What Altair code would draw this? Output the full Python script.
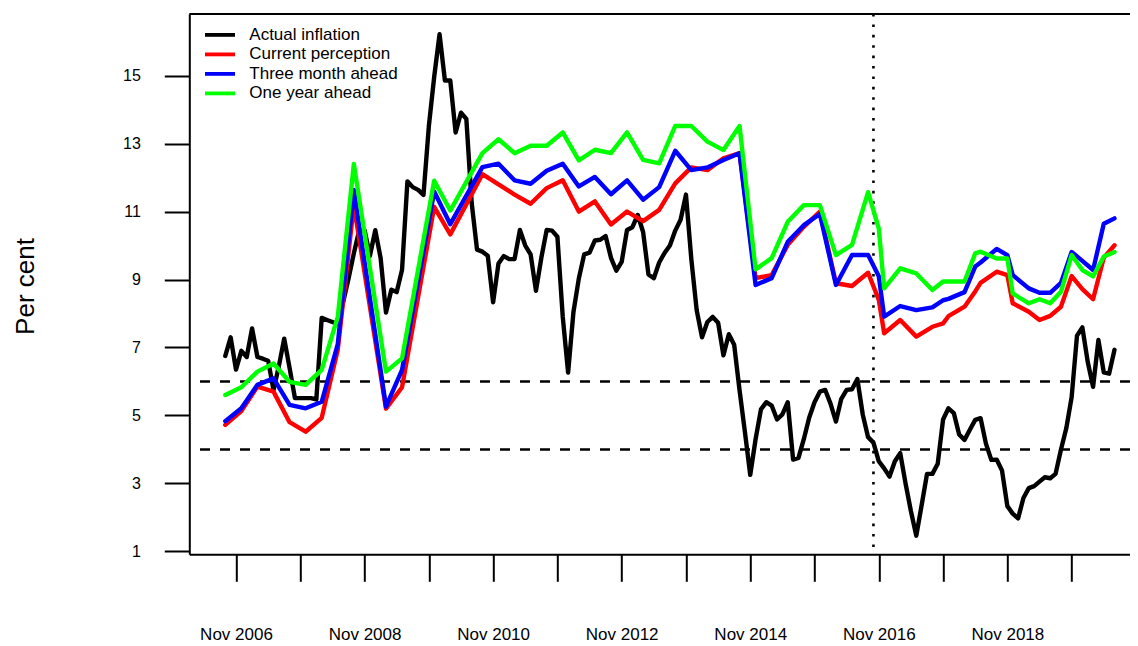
import altair as alt
import pandas as pd

# ------------------------------------------------------------------ data
ACTUAL_START = "2006-09"
ACTUAL = [
    6.75, 7.30, 6.35, 6.90,                                                    # 2006 Sep-Dec
    6.72, 7.56, 6.72, 6.67, 6.61, 5.75, 6.45, 7.26, 6.40, 5.51, 5.51, 5.51,    # 2007
    5.51, 5.47, 7.87, 7.81, 7.75, 7.69, 8.33, 9.02, 9.77, 10.45, 10.45, 9.70,  # 2008
    10.45, 9.63, 8.03, 8.70, 8.63, 9.29, 11.89, 11.72, 11.64, 11.49, 13.51, 14.97,  # 2009
    16.22, 14.86, 14.86, 13.33, 13.91, 13.73, 11.25, 9.88, 9.82, 9.70, 8.33, 9.47,  # 2010
    9.69, 9.60, 9.60, 10.46, 10.00, 9.74, 8.67, 9.64, 10.46, 10.44, 10.26, 7.90,    # 2011
    6.26, 8.05, 9.03, 9.74, 9.79, 10.15, 10.17, 10.28, 9.64, 9.26, 9.52, 10.46,     # 2012
    10.54, 10.90, 10.40, 9.15, 9.04, 9.50, 9.78, 10.00, 10.44, 10.76, 11.50, 9.60,  # 2013
    8.10, 7.30, 7.75, 7.90, 7.73, 6.77, 7.39, 7.08, 5.75, 4.52, 3.25, 4.30,         # 2014
    5.18, 5.39, 5.29, 4.88, 5.03, 5.39, 3.70, 3.75, 4.30, 4.93, 5.39, 5.70,         # 2015
    5.75, 5.34, 4.82, 5.49, 5.75, 5.77, 6.07, 5.03, 4.36, 4.20, 3.65, 3.44,         # 2016
    3.20, 3.65, 3.89, 2.99, 2.18, 1.46, 2.36, 3.28, 3.28, 3.58, 4.88, 5.21,         # 2017
    5.07, 4.44, 4.28, 4.58, 4.87, 4.92, 4.17, 3.69, 3.70, 3.38, 2.33, 2.11,         # 2018
    1.97, 2.57, 2.86, 2.92, 3.05, 3.18, 3.15, 3.28, 3.99, 4.62, 5.54, 7.35,         # 2019
    7.59, 6.58, 5.84, 7.22, 6.27, 6.23, 6.93,                                       # 2020 Jan-Jul
]

EXP_DATES = [
    "2006-09", "2006-12", "2007-03", "2007-06", "2007-09", "2007-12", "2008-03",
    "2008-06", "2008-09", "2009-03", "2009-06", "2009-12", "2010-03", "2010-09",
    "2010-12", "2011-03", "2011-06", "2011-09", "2011-12", "2012-03", "2012-06",
    "2012-09", "2012-12", "2013-03", "2013-06", "2013-09", "2013-12", "2014-03",
    "2014-06", "2014-09", "2014-12", "2015-03", "2015-06", "2015-09", "2015-12",
    "2016-03", "2016-06", "2016-09", "2016-11", "2016-12", "2017-03", "2017-06",
    "2017-09", "2017-11", "2017-12", "2018-03", "2018-05", "2018-06", "2018-09",
    "2018-11", "2018-12", "2019-03", "2019-05", "2019-07", "2019-09", "2019-11",
    "2020-01", "2020-03", "2020-05", "2020-07",
]
CURRENT = [
    4.72, 5.13, 5.85, 5.70, 4.80, 4.52, 4.93,
    6.93, 11.20, 5.20, 5.83, 11.14, 10.33, 12.10,
    11.80, 11.50, 11.23, 11.69, 11.92, 11.00, 11.30,
    10.62, 11.00, 10.72, 11.05, 11.83, 12.30, 12.22,
    12.57, 12.72, 9.04, 9.13, 10.02, 10.55, 11.00,
    8.89, 8.81, 9.20, 8.40, 7.42, 7.81, 7.32,
    7.61, 7.71, 7.92, 8.20, 8.65, 8.90, 9.23,
    9.13, 8.30, 8.05, 7.81, 7.93, 8.20, 9.10,
    8.72, 8.42, 9.64, 10.01,
]
THREE_MONTH = [
    4.83, 5.21, 5.90, 6.09, 5.31, 5.21, 5.40,
    7.10, 11.64, 5.26, 6.34, 11.59, 10.63, 12.31,
    12.41, 11.92, 11.82, 12.20, 12.41, 11.74, 12.02,
    11.51, 11.92, 11.35, 11.72, 12.79, 12.22, 12.30,
    12.52, 12.72, 8.84, 9.04, 10.11, 10.60, 10.93,
    8.84, 9.72, 9.72, 9.10, 7.91, 8.22, 8.10,
    8.18, 8.39, 8.43, 8.63, 9.38, 9.50, 9.90,
    9.72, 9.13, 8.74, 8.61, 8.61, 8.90, 9.81,
    9.55, 9.28, 10.64, 10.80,
]
ONE_YEAR = [
    5.60, 5.83, 6.29, 6.53, 5.99, 5.90, 6.34,
    7.90, 12.40, 6.29, 6.68, 11.91, 11.03, 12.72,
    13.13, 12.72, 12.94, 12.94, 13.33, 12.51, 12.82,
    12.72, 13.33, 12.52, 12.42, 13.52, 13.52, 13.06,
    12.81, 13.52, 9.30, 9.63, 10.70, 11.19, 11.19,
    9.72, 10.02, 11.57, 10.50, 8.74, 9.33, 9.18,
    8.69, 8.94, 8.94, 8.94, 9.77, 9.82, 9.62,
    9.62, 8.59, 8.30, 8.42, 8.30, 8.64, 9.72,
    9.28, 9.09, 9.68, 9.81,
]

SERIES_NAMES = ["Actual inflation", "Current perception", "Three month ahead", "One year ahead"]
SERIES_COLORS = ["#000000", "#FF0000", "#0000FF", "#00FF00"]
TARGET_LINES = [4, 6]
EVENT_DATE = "2016-10"
Y_TICKS = [1, 3, 5, 7, 9, 11, 13, 15]
X_TICK_DATES = ["2006-11", "2007-11", "2008-11", "2009-11", "2010-11", "2011-11", "2012-11",
                "2013-11", "2014-11", "2015-11", "2016-11", "2017-11", "2018-11", "2019-11"]
X_TICK_LABELS = ["Nov 2006", "", "Nov 2008", "", "Nov 2010", "", "Nov 2012",
                 "", "Nov 2014", "", "Nov 2016", "", "Nov 2018", ""]
Y_TITLE = "Per cent"

# ------------------------------------------------------------------ helpers
def dec(s):
    y, m = s.split("-")
    return int(y) + (int(m) - 1) / 12.0

t0 = dec(ACTUAL_START)
actual_df = pd.DataFrame({"t": [t0 + i / 12.0 for i in range(len(ACTUAL))], "v": ACTUAL})
exp_t = [dec(s) for s in EXP_DATES]
exp_dfs = [pd.DataFrame({"t": exp_t, "v": vals}) for vals in (CURRENT, THREE_MONTH, ONE_YEAR)]
target_df = pd.DataFrame({"v": TARGET_LINES})
event_df = pd.DataFrame({"t": [dec(EVENT_DATE)]})
one_row = pd.DataFrame({"k": [0]})

X_TICKS = [dec(s) for s in X_TICK_DATES]
label_expr = " : ".join(
    f"abs(datum.value - {t:.6f}) < 0.01 ? '{lab}'" for t, lab in zip(X_TICKS, X_TICK_LABELS)
) + " : ''"

FONT = "Liberation Sans"
PAD_L, PAD_T = 181.3, 6
W, H = 1122 - PAD_L, 540.3
PX_PER_YEAR = 64.28
X0 = 2006.1068

xscale = alt.Scale(domain=[X0, X0 + W / PX_PER_YEAR], nice=False, zero=False)
yscale = alt.Scale(domain=[0.912, 16.816], nice=False, zero=False)

xaxis = alt.Axis(
    values=X_TICKS, labelExpr=label_expr, title="", grid=False,
    tickSize=27, tickWidth=2, tickColor="black",
    domainColor="black", domainWidth=2,
    labelPadding=45, labelFontSize=17, labelFont=FONT, labelColor="black",
    labelOverlap=False, labelFlush=False,
)
yaxis = alt.Axis(
    values=Y_TICKS, grid=False, format="d",
    tickSize=25, tickWidth=2, tickColor="black",
    domainColor="black", domainWidth=2,
    labelPadding=24, labelFontSize=16, labelFont=FONT, labelColor="black",
    labelOverlap=False, labelFlush=False,
    title=Y_TITLE, titleFont=FONT, titleFontSize=26, titleFontWeight="normal",
    titleColor="black", titleAngle=270, titleX=-156, titleY=272,
    titleAlign="center", titleBaseline="alphabetic",
)

def X(field):
    return alt.X(field, type="quantitative", scale=xscale, axis=xaxis)

def Y(field):
    return alt.Y(field, type="quantitative", scale=yscale, axis=yaxis)

layers = []

# top border of the box
layers.append(
    alt.Chart(one_row).mark_rule(color="black", strokeWidth=2).encode(
        x=alt.value(0), x2=alt.value(W), y=alt.value(0))
)
# target band lines
layers.append(
    alt.Chart(target_df).mark_rule(color="black", strokeWidth=2.5, strokeDash=[10, 10]).encode(
        y=Y("v"))
)
# event line
layers.append(
    alt.Chart(event_df).mark_rule(color="black", strokeWidth=2.6, strokeDash=[2.6, 7.8]).encode(
        x=X("t"))
)
# series
all_dfs = [actual_df] + exp_dfs
for df, col in zip(all_dfs, SERIES_COLORS):
    layers.append(
        alt.Chart(df).mark_line(color=col, strokeWidth=4.4, strokeCap="round",
                                strokeJoin="round").encode(x=X("t"), y=Y("v"))
    )

# legend (top-left, no box)
for i, (name, col) in enumerate(zip(SERIES_NAMES, SERIES_COLORS)):
    yy = 20.9 + 19.5 * i
    layers.append(
        alt.Chart(one_row).mark_rule(color=col, strokeWidth=3.8).encode(
            x=alt.value(15.7), x2=alt.value(45.7), y=alt.value(yy))
    )
    layers.append(
        alt.Chart(one_row).mark_text(align="left", baseline="middle", fontSize=17,
                                     font=FONT, color="black").encode(
            x=alt.value(60), y=alt.value(yy), text=alt.value(name))
    )

chart = alt.layer(*layers).properties(
    width=W, height=H,
    padding={"left": PAD_L, "top": PAD_T, "right": 0, "bottom": 638 - PAD_T - H},
    autosize=alt.AutoSizeParams(type="none"),
    background="white",
).configure_view(stroke="transparent")

chart.save("out.html", embed_options={"renderer": "svg", "actions": False})
